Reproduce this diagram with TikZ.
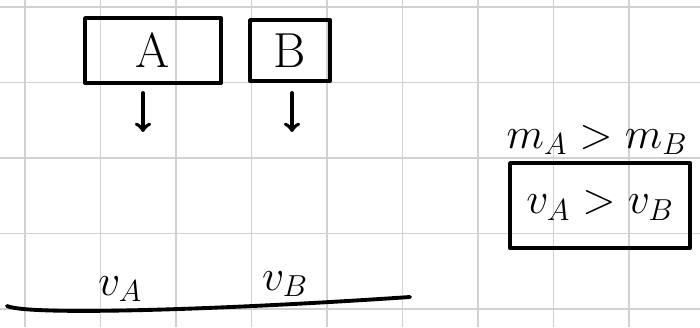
\documentclass[tikz,border=0pt]{standalone}
\usetikzlibrary{positioning}

\begin{document}
\begin{tikzpicture}[
gridline/.style={
  draw=black!18,
  line width=0.9pt
  },
ink/.style={
  draw=black,
  line width=2.2pt,
  line cap=round,
  line join=round
  },
block/.style={
  ink,
  rectangle,
  inner sep=0pt,
  font=\fontsize{28}{32}\selectfont
  },
label/.style={
  font=\fontsize{24}{28}\selectfont,
  inner sep=1pt
  },
>=to]
\useasboundingbox (0,0) rectangle (14,6.54);

% squared paper
\foreach \gx in {0.5,2.01,3.52,5.03,6.54,8.05,9.56,11.07,12.58}
  \draw[gridline] (\gx,0) -- (\gx,6.54);
\foreach \gy in {0.36,1.87,3.38,4.89,6.40}
  \draw[gridline] (0,\gy) -- (14,\gy);

% the two bodies
\node [block, minimum width=2.72cm, minimum height=1.3cm] (A) at (3.06,5.53) {A};
\node [block, minimum width=1.6cm, minimum height=1.22cm] (B) at (5.8,5.53) {B};

\coordinate (arA) at (2.86,4.68);
\coordinate (arB) at (5.84,4.68);
\foreach \body in {arA,arB}
  \draw[ink,->] (\body) -- ++(0,-0.78);

% result
\node [label] (mass) at (11.94,3.74) {$m_A > m_B$};
\node [block, minimum width=3.6cm, minimum height=1.7cm, font=\fontsize{24}{28}\selectfont] (vel) at (12.0,2.43) {$v_A > v_B$};

% ground
\coordinate (gl) at (0.14,0.42);
\coordinate (gr) at (8.2,0.6);
\draw[ink] (gl) .. controls (0.6,0.22) and (4.5,0.35) .. (gr);
\node [label] (vA) at (2.4,0.76) {$v_A$};
\node [label] (vB) at (5.7,0.86) {$v_B$};

\end{tikzpicture}
\end{document}
